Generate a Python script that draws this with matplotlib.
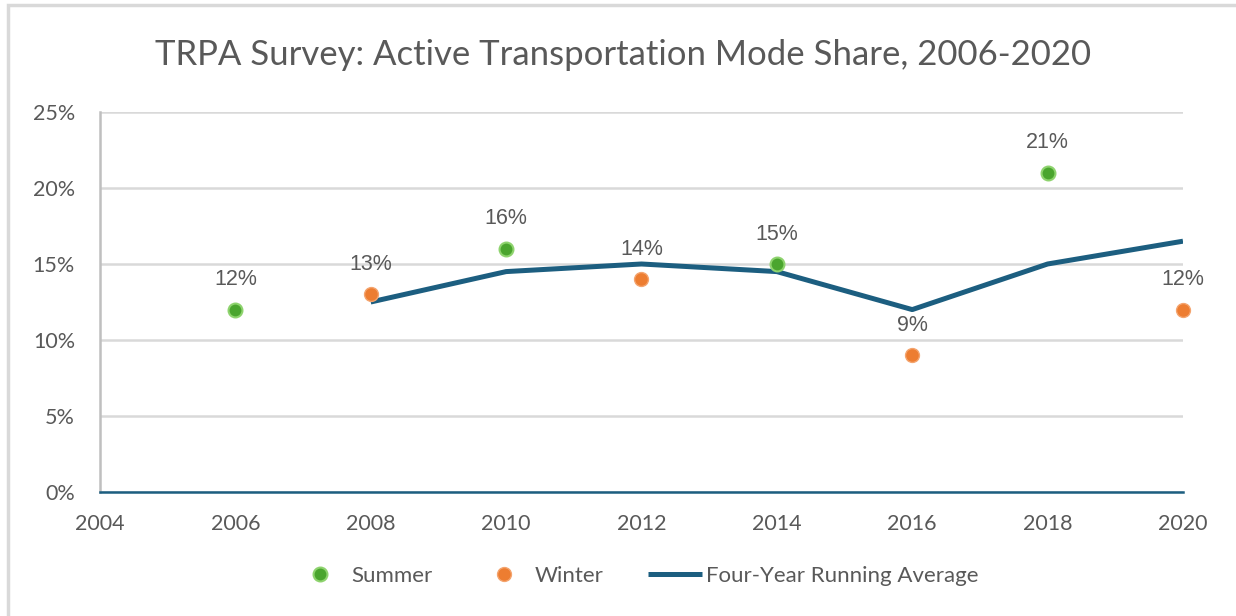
import numpy as np
import matplotlib
matplotlib.use("Agg")
from matplotlib import pyplot as plt
from matplotlib.patches import Rectangle
from matplotlib.ticker import FuncFormatter

# survey values (percent)
summer_years = [2006, 2010, 2014, 2018]
summer_share = [12, 16, 15, 21]
winter_years = [2008, 2012, 2016, 2020]
winter_share = [13, 14, 9, 12]
avg_years = [2008, 2010, 2012, 2014, 2016, 2018, 2020]
avg_share = [12.5, 14.5, 15, 14.5, 12, 15, 16.5]

grey = "#595959"
blue = "#1C5E80"

fig = plt.figure(figsize=(12.36, 6.16), dpi=100)
ax = fig.add_axes([0.0809, 0.2013, 0.8762, 0.6169])

# outer chart frame
fig.patches.append(Rectangle((0.0065, -0.05), 1.2, 1.042, transform=fig.transFigure,
                             fill=False, edgecolor="#D9D9D9", linewidth=2.5))

ax.plot(avg_years, avg_share, color=blue, lw=3.6, solid_capstyle="butt",
        label="Four-Year Running Average", zorder=3)
ax.plot(summer_years, summer_share, ls="none", marker="o", ms=10,
        mfc="#4AA52E", mec="#8ED36E", mew=1.5, label="Summer", zorder=4,
        clip_on=False)
ax.plot(winter_years, winter_share, ls="none", marker="o", ms=10,
        mfc="#ED7D31", mec="#F4A46E", mew=1.0, label="Winter", zorder=4,
        clip_on=False)

lab_font = dict(family="Liberation Sans", fontsize=15.5, color=grey)
for x, y in zip(summer_years + winter_years, summer_share + winter_share):
    ax.annotate(f"{y}%", (x, y), xytext=(0, 14), textcoords="offset points",
                ha="center", va="bottom", **lab_font)

ax.set_xlim(2004, 2020)
ax.set_ylim(0, 25)
ax.set_xticks(np.arange(2004, 2021, 2))
ax.set_yticks(np.arange(0, 26, 5))
ax.yaxis.set_major_formatter(FuncFormatter(lambda v, p: f"{v:.0f}%"))
ax.grid(axis="y", color="#D9D9D9", lw=1.8)
ax.set_axisbelow(True)
ax.tick_params(length=0, labelsize=15.5, labelcolor=grey)
for t in ax.get_xticklabels() + ax.get_yticklabels():
    t.set_family("Lato")
ax.tick_params(axis="x", pad=16)
ax.tick_params(axis="y", pad=18)
for s in ["top", "right"]:
    ax.spines[s].set_visible(False)
ax.spines["left"].set_color("#BFBFBF")
ax.spines["left"].set_linewidth(1.8)
ax.spines["bottom"].set_color(blue)
ax.spines["bottom"].set_linewidth(1.8)

fig.text(0.504, 1 - 55 / 616, "TRPA Survey: Active Transportation Mode Share, 2006-2020",
         ha="center", va="center", fontsize=25, color=grey, family="Lato")

h, l = ax.get_legend_handles_labels()
order = [1, 2, 0]
fig.legend([h[i] for i in order], [l[i] for i in order], loc="center",
           bbox_to_anchor=(0.5146, 0.065), ncol=3, frameon=False,
           prop=dict(family="Lato", size=16), labelcolor=grey,
           columnspacing=2.0, handlelength=2.4, handletextpad=0.2)

fig.savefig("out.png", dpi=100)
